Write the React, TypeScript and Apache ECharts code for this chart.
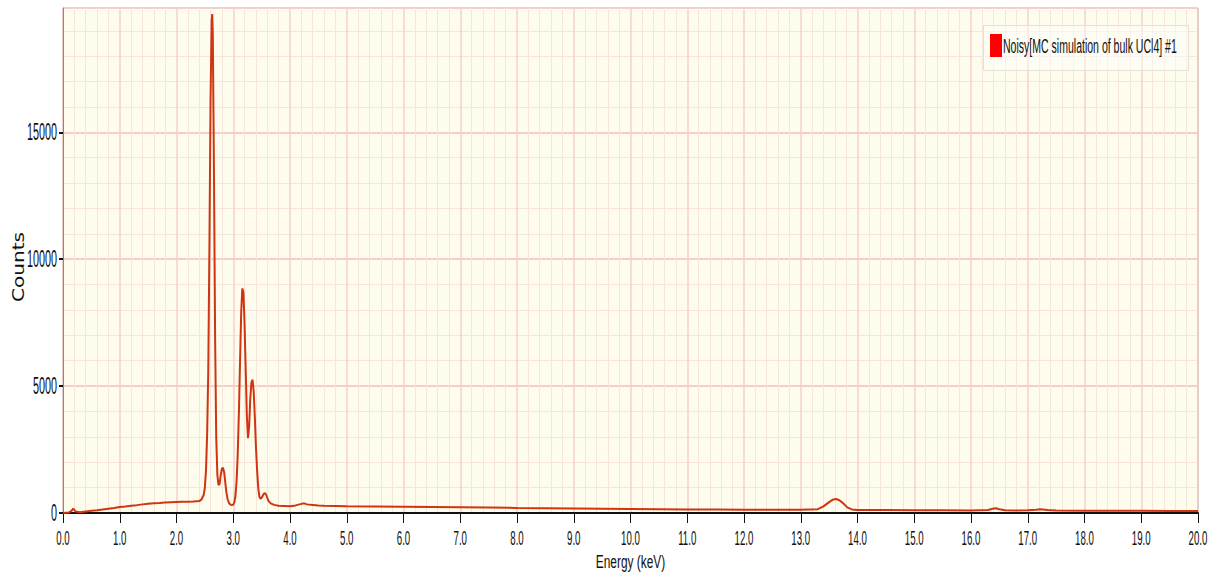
import React, { useEffect, useRef } from "react";
import * as echarts from "echarts";

const seriesName = "Noisy[MC simulation of bulk UCl4] #1";
const xAxisTitle = "Energy (keV)";
const yAxisTitle = "Counts";

const energies = [
  0.0, 0.1, 0.15, 0.18, 0.22, 0.3, 0.4, 0.5, 0.6, 0.7, 0.8, 0.9, 1.0, 1.1, 1.2, 1.3, 1.4, 1.5, 1.6, 1.7, 1.8, 1.9,
  2.0, 2.1, 2.2, 2.3, 2.4, 2.44, 2.48, 2.5, 2.52, 2.54, 2.56, 2.58, 2.6, 2.62, 2.63, 2.64, 2.66, 2.68, 2.7, 2.72,
  2.74, 2.76, 2.78, 2.8, 2.82, 2.84, 2.86, 2.88, 2.9, 2.92, 2.94, 2.96, 2.98, 3.0, 3.02, 3.04, 3.06, 3.08, 3.1,
  3.12, 3.14, 3.16, 3.18, 3.2, 3.22, 3.24, 3.26, 3.28, 3.3, 3.32, 3.34, 3.36, 3.38, 3.4, 3.42, 3.44, 3.46, 3.48,
  3.5, 3.52, 3.54, 3.56, 3.58, 3.6, 3.62, 3.66, 3.72, 3.8, 3.9, 4.0, 4.1, 4.2, 4.25, 4.3, 4.4, 4.5, 4.6, 4.8,
  5.0, 5.5, 6.0, 6.5, 7.0, 7.5, 8.0, 8.5, 9.0, 9.5, 10.0, 10.5, 11.0, 11.5, 12.0, 12.5, 13.0, 13.3, 13.4, 13.5,
  13.56, 13.62, 13.68, 13.75, 13.82, 13.9, 14.0, 14.5, 15.0, 15.5, 16.0, 16.3, 16.38, 16.44, 16.5, 16.6, 16.8,
  17.0, 17.15, 17.22, 17.35, 17.5, 18.0, 18.5, 19.0, 19.5, 20.0,
];

const counts = [
  0, 15, 80, 170, 60, 30, 60, 90, 110, 140, 170, 200, 240, 260, 290, 310, 340, 360, 380, 390, 410, 420,
  430, 440, 440, 450, 470, 530, 720, 1000, 1700, 3100, 5600, 10500, 16300, 19400, 19660, 18800, 13500, 7000, 3000, 1500,
  1100, 1150, 1500, 1750, 1780, 1600, 1200, 800, 550, 420, 350, 320, 310, 330, 420, 700, 1300, 2400, 4000,
  6000, 7900, 8850, 8700, 7400, 5600, 3800, 2950, 3400, 4500, 5150, 5250, 4800, 3800, 2600, 1700, 1000, 650, 560,
  600, 680, 760, 780, 720, 600, 480, 380, 320, 290, 280, 270, 300, 360, 380, 340, 320, 300, 290, 280,
  270, 260, 250, 240, 230, 215, 200, 190, 180, 170, 160, 150, 140, 135, 130, 125, 125, 150, 260, 430,
  520, 550, 500, 380, 220, 140, 120, 115, 110, 105, 100, 120, 170, 185, 150, 110, 100,
  110, 130, 145, 115, 100, 90, 88, 85, 82, 80,
];

const xTickInterval = 1;
const yTickInterval = 5000;
const yMax = 19900;

const sans = "'Liberation Sans', Arial, sans-serif";

export default function App() {
  const ref = useRef<HTMLDivElement>(null);
  useEffect(() => {
    if (!ref.current) return;
    const chart = echarts.init(ref.current, undefined, { renderer: "svg" });
    const data = energies.map((e, i) => [e, counts[i]]);
    chart.setOption({
      animation: false,
      backgroundColor: "#ffffff",
      grid: {
        left: 63,
        right: 18,
        top: 8,
        bottom: 69,
        containLabel: false,
        outerBoundsMode: "none",
        show: true,
        backgroundColor: "#fefcec",
        borderColor: "#8a8a8a",
        borderWidth: 1,
      },
      graphic: [
        {
          type: "rect",
          left: 983,
          top: 25,
          shape: { width: 205, height: 45 },
          style: { fill: "rgba(255,255,255,0.45)", stroke: "#e4e1d8", lineWidth: 1 },
          z: 5,
        },
        {
          type: "text",
          x: 18.5,
          y: 267,
          rotation: Math.PI / 2,
          style: {
            text: yAxisTitle,
            font: "16px 'DejaVu Sans', sans-serif",
            fill: "#111",
            align: "center",
            verticalAlign: "middle",
          },
          z: 5,
        },
      ],
      legend: {
        left: 990,
        top: 34,
        padding: 0,
        icon: "rect",
        itemWidth: 12,
        itemHeight: 23,
        z: 6,
        data: [{ name: seriesName, itemStyle: { color: "#ff0000" } }],
        textStyle: { fontFamily: sans, fontSize: 19.5, color: "#111", padding: [0, 0, 0, -4] },
      },
      xAxis: {
        type: "value",
        min: 0,
        max: 20,
        interval: xTickInterval,
        name: xAxisTitle,
        nameLocation: "middle",
        nameGap: 36,
        nameTextStyle: { fontFamily: sans, fontSize: 18, color: "#111" },
        axisLine: { show: true, onZero: false, lineStyle: { color: "#111", width: 2 } },
        axisTick: { show: true, length: 10, lineStyle: { color: "#111", width: 1 } },
        axisLabel: {
          fontFamily: sans,
          fontSize: 21,
          color: "#111",
          margin: 14,
          formatter: (v: number) => v.toFixed(1),
        },
        splitLine: { show: true, lineStyle: { color: "#f6d0cc", width: 1.5 } },
        minorTick: { show: false, splitNumber: 5 },
        minorSplitLine: { show: true, lineStyle: { color: "#f5e6dc", width: 1 } },
      },
      yAxis: {
        type: "value",
        min: 0,
        max: yMax,
        interval: yTickInterval,
        axisLine: { show: true, lineStyle: { color: "#888", width: 1 } },
        axisTick: { show: true, length: 4, lineStyle: { color: "#111", width: 2 } },
        axisLabel: {
          fontFamily: sans,
          fontSize: 23,
          color: "#111",
          margin: 6,
          showMaxLabel: false,
          formatter: (v: number) => String(v),
        },
        splitLine: { show: true, lineStyle: { color: "#f6cccc", width: 2 } },
        minorTick: { show: false, splitNumber: 5 },
        minorSplitLine: { show: true, lineStyle: { color: "#f7e4dc", width: 1 } },
      },
      series: [
        {
          name: seriesName,
          type: "line",
          data,
          showSymbol: false,
          symbol: "none",
          lineStyle: { color: "#cf3510", width: 2 },
          itemStyle: { color: "#cf3510" },
        },
      ],
    });

    // The reference uses a horizontally condensed typeface; compress glyphs to match.
    const condense = () => {
      const root = ref.current;
      if (!root) return;
      root.querySelectorAll("text").forEach((node) => {
        const t = node as SVGTextElement;
        if (t.hasAttribute("textLength")) return;
        const s = (t.textContent || "").trim();
        let target = 0;
        let f = 0;
        if (s === seriesName) f = 0.54;
        else if (s === xAxisTitle) f = 0.66;
        else if (s === yAxisTitle) target = 70;
        else if (/^\d+\.\d$/.test(s)) f = 0.46;
        else if (/^\d+$/.test(s)) f = 0.47;
        if (!f && !target) return;
        const len = t.getComputedTextLength();
        if (!len) return;
        t.setAttribute("textLength", String(target || len * f));
        t.setAttribute("lengthAdjust", "spacingAndGlyphs");
      });
    };
    condense();
    chart.on("finished", condense);
    return () => chart.dispose();
  }, []);
  return <div ref={ref} style={{ position: "fixed", left: 0, top: 0, width: 1216, height: 582 }} />;
}
